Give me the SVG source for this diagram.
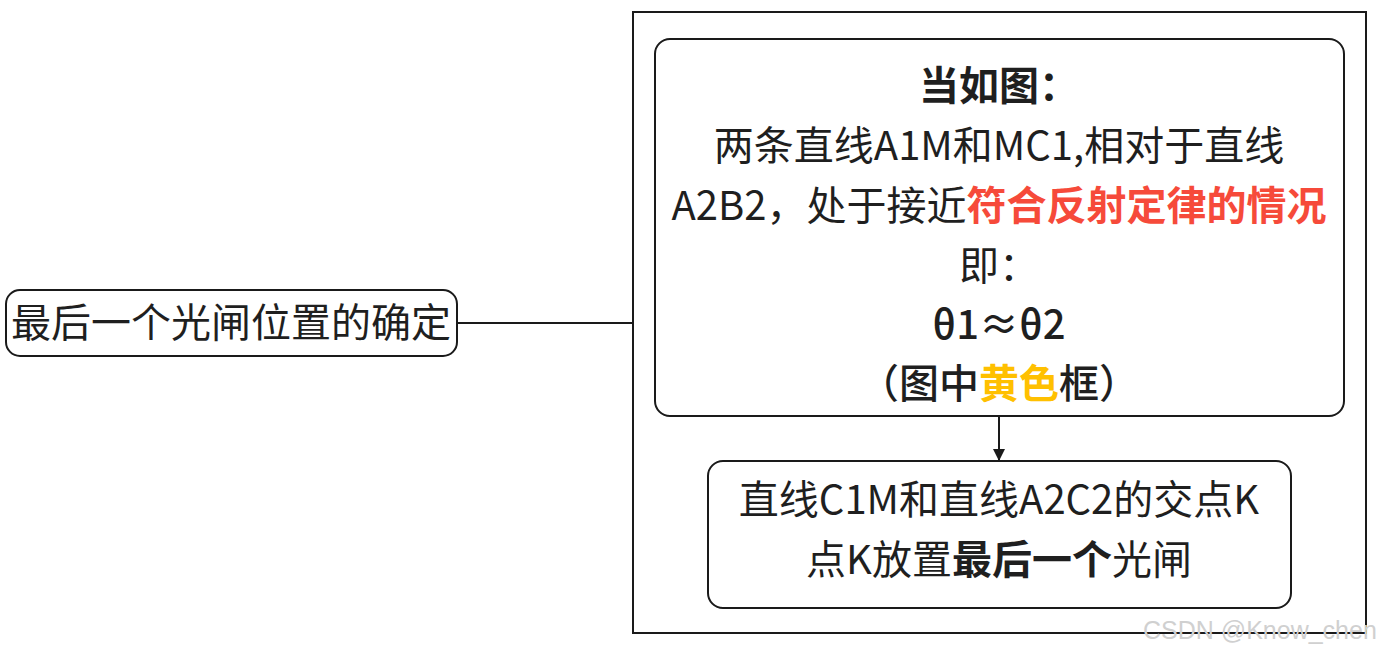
<svg xmlns="http://www.w3.org/2000/svg" width="1382" height="652" viewBox="0 0 1382 652">
<defs>
<style>
.box{fill:#fff;stroke:#1a1a1a;stroke-width:2}
.t{font-family:"Noto Sans CJK SC","Noto Sans",sans-serif;font-size:40px;fill:#1f1f1f;text-anchor:middle}
.b{font-weight:bold}
.m{font-weight:500}
.red{fill:#f64a3a}
.yel{fill:#ffc000}
.ln{stroke:#1a1a1a;stroke-width:2;fill:none}
.wm{font-family:"Liberation Sans",Arial,sans-serif;font-size:25px;fill:#d0d0d0}
</style>
<marker id="arr" viewBox="0 0 10 10" refX="10" refY="5" markerWidth="12" markerHeight="12" markerUnits="userSpaceOnUse" orient="auto">
<path d="M0,0 L10,5 L0,10 z" fill="#1a1a1a"/>
</marker>
</defs>
<rect width="1382" height="652" fill="#fff"/>
<g id="container">
<rect x="633" y="12" width="733" height="621" fill="none" stroke="#1a1a1a" stroke-width="2"/>
</g>
<g id="connectors">
<line class="ln" x1="457" y1="323" x2="633" y2="323"/>
<line class="ln" x1="999" y1="416" x2="999" y2="461" marker-end="url(#arr)"/>
</g>
<g id="node-left">
<rect class="box" x="6" y="290" width="451" height="66" rx="14"/>
<text class="t" x="231" y="337">最后一个光闸位置的确定</text>
</g>
<g id="node-top">
<rect class="box" x="655" y="39" width="689" height="377" rx="15"/>
<text class="t b" x="999" y="100">当如图：</text>
<text class="t" x="999" y="160">两条直线A1M和MC1,相对于直线</text>
<text class="t" x="999" y="220">A2B2，处于接近<tspan class="b red">符合反射定律的情况</tspan></text>
<text class="t" x="999" y="280">即：</text>
<text class="t m" x="999" y="339">θ1≈θ2</text>
<text class="t m" x="999" y="398">（图中<tspan class="b yel">黄色</tspan>框）</text>
</g>
<g id="node-bottom">
<rect class="box" x="708" y="461" width="583" height="147" rx="15"/>
<text class="t" x="999" y="514">直线C1M和直线A2C2的交点K</text>
<text class="t" x="999" y="574">点K放置<tspan class="b">最后一个</tspan>光闸</text>
</g>
<text class="wm" x="1143" y="639">CSDN @Know_chen</text>
</svg>
